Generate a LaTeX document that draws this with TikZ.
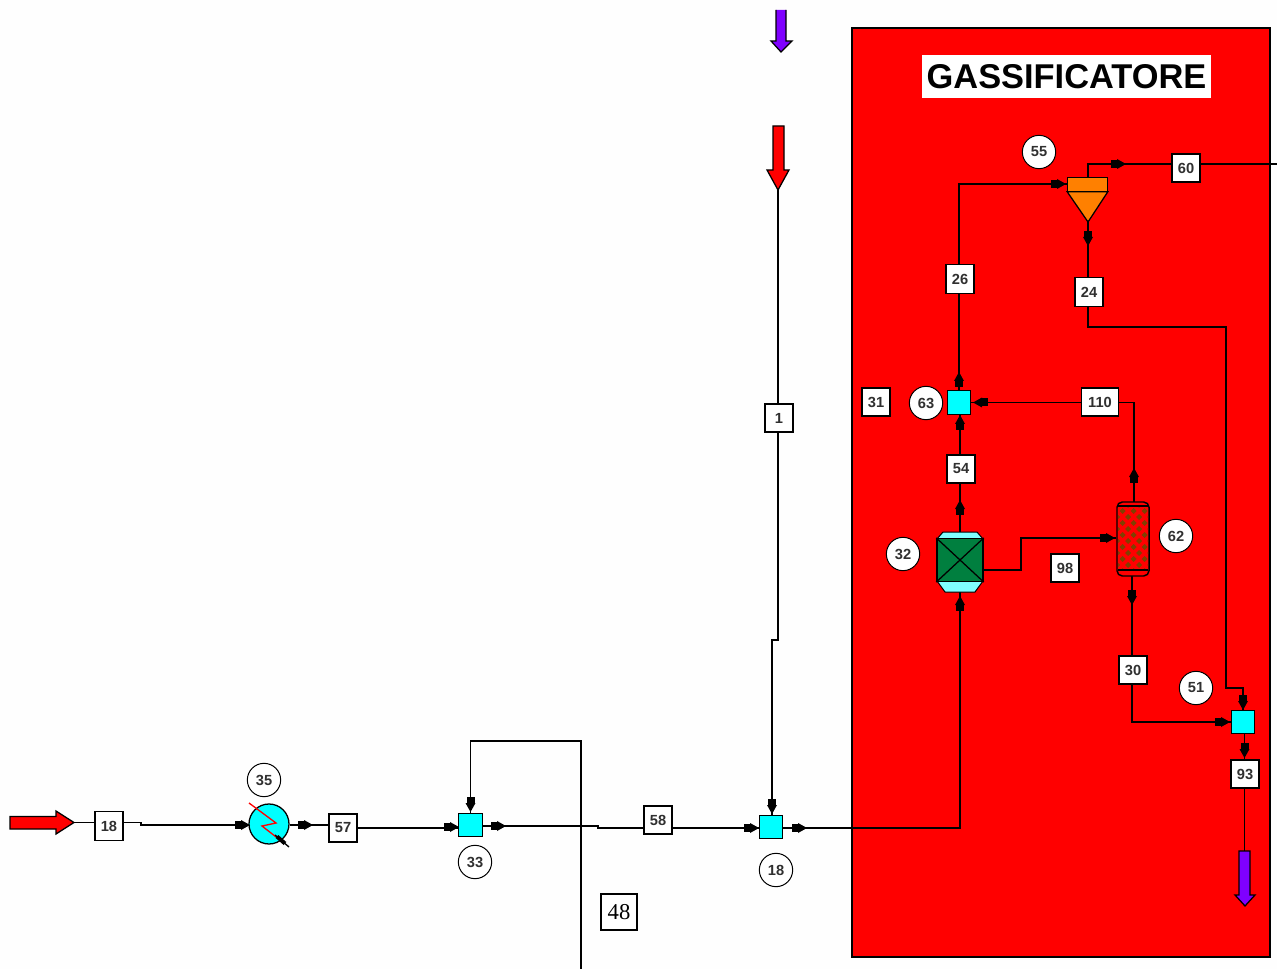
\documentclass[tikz,border=0pt]{standalone}
\usepackage{fontspec}
\setmainfont{Liberation Sans}
\newfontfamily\timesf{Liberation Serif}
\usetikzlibrary{backgrounds,calc}
\definecolor{labtext}{HTML}{303030}
\definecolor{paper}{HTML}{FEFEFE}
\definecolor{panelred}{HTML}{FF0000}
\definecolor{mixcyan}{HTML}{00FFFF}
\definecolor{capcyan}{HTML}{80FFFF}
\definecolor{reactgreen}{HTML}{007F3F}
\definecolor{seporange}{HTML}{FF8000}
\definecolor{hatchbrown}{HTML}{804000}
\definecolor{purp}{HTML}{7F00FF}
\tikzset{
  x=0.75pt,y=-0.75pt,
  pipe/.style={draw=black,line width=1pt},
  lab/.style={draw=black,fill=white,line width=0.95pt,inner sep=0pt,minimum width=21pt,minimum height=21pt,
     text=labtext,font=\fontsize{11}{11}\selectfont\bfseries},
  wide/.style={minimum width=28pt},
  tag/.style={circle,draw=black,fill=white,line width=0.75pt,inner sep=0pt,minimum size=25pt,
     text=labtext,font=\fontsize{11}{11}\selectfont\bfseries},
  mixer/.style={draw=black,fill=mixcyan,line width=0.95pt,inner sep=0pt,minimum size=17.5pt},
  bigarrow/.style={draw=black,line width=0.95pt},
  flowmark/.pic={
    \fill[black] (-7,-4) rectangle (0,4);
    \fill[black] (-1,-5) -- (8,0) -- (-1,5) -- cycle;
  }
}
\begin{document}
\begin{tikzpicture}
\useasboundingbox (0,0) rectangle (1277,969);

% ---------- equipment and labels
\node[lab,draw=none,fill=white,minimum width=216.75pt,minimum height=32.25pt,text=black,font=\fontsize{25.8}{26}\selectfont\bfseries] (title) at (1066.5,76.5) {GASSIFICATORE};

\node[lab] (l60) at (1186,168) {60};
\node[lab,minimum height=22pt] (l26) at (960,279) {26};
\node[lab,minimum height=22pt] (l24) at (1089,292) {24};
\node[lab,wide] (l110) at (1100,402) {110};
\node[lab] (l31) at (876,402) {31};
\node[lab] (l54) at (961,469) {54};
\node[lab] (l98) at (1065,568) {98};
\node[lab] (l30) at (1133,670) {30};
\node[lab] (l93) at (1245,774) {93};
\node[lab] (l1) at (779,418) {1};
\node[lab,minimum height=22pt] (l18) at (109,826) {18};
\node[lab] (l57) at (343,828) {57};
\node[lab] (l58) at (658,820) {58};
\node[draw=black,fill=white,line width=1.3pt,inner sep=0pt,minimum size=27.5pt,font=\timesf\fontsize{17}{17}\selectfont] (l48) at (619,912) {48};

\node[tag] (t55) at (1039,152) {55};
\node[tag] (t63) at (926,403) {63};
\node[tag] (t32) at (903,554) {32};
\node[tag] (t62) at (1176,536) {62};
\node[tag] (t51) at (1196,688) {51};
\node[tag] (t35) at (264,780) {35};
\node[tag] (t33) at (475,862) {33};
\node[tag] (t18) at (776,870) {18};

\node[mixer] (m63) at (959,402.5) {};
\node[mixer] (m51) at (1243,722) {};
\node[mixer] (m33) at (470.5,825) {};
\node[mixer] (m18) at (771,827) {};

% cyclone separator
\node[draw=black,fill=seporange,line width=0.95pt,inner sep=0pt,minimum width=29.5pt,minimum height=10pt] (sep) at (1087.5,184.5) {};
\draw[black,fill=seporange,line width=0.95pt] (sep.south west) -- (1088,222) coordinate (sepbot) -- (sep.south east) -- cycle;

% reactor 32
\draw[black,fill=capcyan,line width=0.75pt] (937,539) -- (943,532) -- (977,532) -- (983,539) -- cycle;
\draw[black,fill=capcyan,line width=0.75pt] (937,581) -- (945,592) -- (975,592) -- (983,581) -- cycle;
\node[draw=black,fill=reactgreen,line width=1.1pt,inner sep=0pt,minimum width=34.5pt,minimum height=32pt] (r32) at (960,560) {};
\draw[black,line width=0.95pt] (r32.north west) -- (r32.south east) (r32.north east) -- (r32.south west);
\coordinate (r32top) at (960,532);
\coordinate (r32bot) at (960,592);

% column 62
\node[draw=black,fill=panelred,line width=1.1pt,rounded corners=4pt,inner sep=0pt,minimum width=24pt,minimum height=55.5pt] (c62) at (1133,539) {};
\begin{scope}
  \clip (1118,506) rectangle (1148,570);
  \foreach \r in {0,...,11}{
    \pgfmathsetmacro{\yy}{505+\r*6}
    \pgfmathsetmacro{\xo}{1117+mod(\r,2)*5.5}
    \foreach \c in {0,...,3}{
      \fill[hatchbrown] ($(\xo+\c*11,\yy)+(-3,0)$) -- ++(3,-3) -- ++(3,3) -- ++(-3,3) -- cycle;
    }
  }
\end{scope}
\draw[black,line width=0.8pt] (1118,506) -- (1148,506) (1118,570) -- (1148,570);
\coordinate (c62top) at (1134,502);
\coordinate (c62bot) at (1132,576);

% heat exchanger 35
\node[circle,draw=black,fill=mixcyan,line width=0.95pt,inner sep=0pt,minimum size=30pt] (hx) at (269,824) {};
\draw[panelred,line width=1pt] (249,803) -- (276,823) -- (262,826) -- (280,840);
\draw[black,line width=1pt] (275,835) -- (289,847);
\draw[black,line width=3pt] (277,836.5) -- (285,843.5);

% big arrows
\draw[bigarrow,fill=panelred] (10,816.5) -- (56,816.5) -- (56,811) -- (74,822.5) coordinate (srcL) -- (56,834) -- (56,829) -- (10,829) -- cycle;
\draw[bigarrow,fill=panelred] (773,126) -- (784,126) -- (784,170) -- (789,170) -- (778,190) coordinate (srcT) -- (767,170) -- (773,170) -- cycle;
\draw[bigarrow,fill=purp] (776,10) -- (776,41) -- (771,41) -- (781,52) -- (792,41) -- (786,41) -- (786,10);
\draw[bigarrow,fill=purp] (1239,851) -- (1250,851) -- (1250,895) -- (1255,895) -- (1245,906) -- (1235,895) -- (1239,895) -- cycle;
\coordinate (sinkB) at (1244.5,851);

% free ends
\coordinate (out60) at (1277,164);
\coordinate (out48) at (581,969);

% ---------- connectors
\begin{scope}[on background layer]
  \fill[paper] (0,0) rectangle (1277,969);
  \draw[black,fill=panelred,line width=1.1pt] (852,28) rectangle (1270,957);

  \draw[pipe] (srcL) -- (l18.west |- srcL) (l18.east |- srcL) -- (141,822.5) -- (141,825) -- (hx.west |- 141,825);
  \draw[pipe] (hx.east |- 141,825) -- (l57.west |- 141,825);
  \draw[pipe] (l57.east) -- (m33.west |- l57.east);
  \draw[pipe] (m33.east |- 0,826) -- (598,826) -- (598,828) -- (m18.west |- 598,828);
  \draw[pipe] (out48) -- (581,741) -- (470.5,741) -- (m33.north);
  \draw[pipe] (srcT) -- (778,640) -- (772,640) -- (772,820);
  \draw[pipe] (r32bot) -- (r32bot |- 0,828) -- (m18.east |- 0,828);
  \draw[pipe] (r32top) -- (960,414);
  \draw[pipe] (m63.north) -- (959,184) -- (sep.west |- 0,184);
  \draw[pipe] (1088,177) -- (1088,164) -- (out60);
  \draw[pipe] (sepbot) -- (1088,327) -- (1226,327) -- (1226,688) -- (1243,688) -- (m51.north);
  \draw[pipe] (m63.east) -- (1134,402.5) -- (c62top);
  \draw[pipe] (r32.east |- 0,570) -- (1021,570) -- (1021,538) -- (c62.west |- 0,538);
  \draw[pipe] (c62bot) -- (1132,722) -- (m51.west);
  \draw[pipe] (1244.5,734) -- (sinkB);
\end{scope}

% ---------- flow marks
\pic at (242,825) {flowmark};
\pic at (305,825) {flowmark};
\pic at (451,827) {flowmark};
\pic at (498,826) {flowmark};
\pic[rotate=-90] at (470.5,804) {flowmark};
\pic at (751,828) {flowmark};
\pic at (799,828) {flowmark};
\pic[rotate=-90] at (772,806) {flowmark};
\pic[rotate=90] at (960,423) {flowmark};
\pic[rotate=90] at (959,380) {flowmark};
\pic[rotate=180] at (981,402.5) {flowmark};
\pic[rotate=90] at (960,508) {flowmark};
\pic[rotate=90] at (960,604) {flowmark};
\pic at (1058,184) {flowmark};
\pic at (1118,164) {flowmark};
\pic[rotate=-90] at (1088,238) {flowmark};
\pic at (1107,538) {flowmark};
\pic[rotate=90] at (1134,476) {flowmark};
\pic[rotate=-90] at (1132,597) {flowmark};
\pic at (1222,722) {flowmark};
\pic[rotate=-90] at (1243,702) {flowmark};
\pic[rotate=-90] at (1244.5,750) {flowmark};
\end{tikzpicture}
\end{document}
